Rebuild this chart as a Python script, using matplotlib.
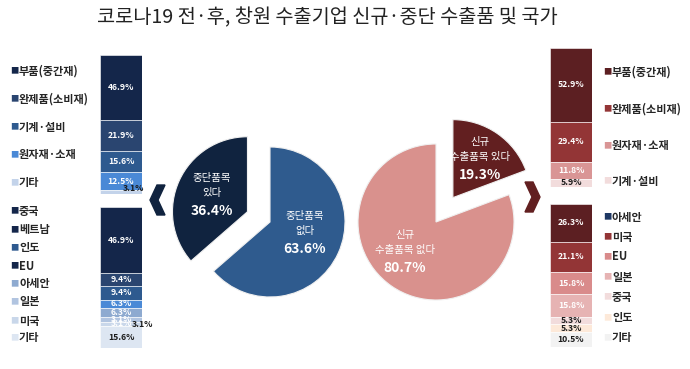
import matplotlib
matplotlib.use("Agg")
import matplotlib.pyplot as plt
from matplotlib.patches import Polygon

plt.rcParams['font.family'] = ['Noto Sans CJK KR', 'DejaVu Sans']

W, H = 690, 369

# ---- data ----
title = "코로나19 전·후, 창원 수출기업 신규·중단 수출품 및 국가"

stop_pie_labels = ["중단품목\n없다", "중단품목\n있다"]
stop_pie_values = [63.6, 36.4]
new_pie_labels = ["신규\n수출품목 있다", "신규\n수출품목 없다"]
new_pie_values = [19.3, 80.7]

stop_item_cats = ["부품(중간재)", "완제품(소비재)", "기계·설비", "원자재·소재", "기타"]
stop_item_vals = [46.9, 21.9, 15.6, 12.5, 3.1]
stop_nation_cats = ["중국", "베트남", "인도", "EU", "아세안", "일본", "미국", "기타"]
stop_nation_vals = [46.9, 9.4, 9.4, 6.3, 6.3, 3.1, 3.1, 15.6]

new_item_cats = ["부품(중간재)", "완제품(소비재)", "원자재·소재", "기계·설비"]
new_item_vals = [52.9, 29.4, 11.8, 5.9]
new_nation_cats = ["아세안", "미국", "EU", "일본", "중국", "인도", "기타"]
new_nation_vals = [26.3, 21.1, 15.8, 15.8, 5.3, 5.3, 10.5]

# ---- styles ----
navy = "#14264a"
blue_cols5 = [navy, "#2a4570", "#2e5a8f", "#4a89d6", "#c3d3ea"]
blue_txt5 = ["white", "white", "white", "white", "#1a1a1a"]
blue_cols8 = [navy, "#2a4570", "#2e5a8f", "#4a89d6", "#8eaad0", "#b1c4e0", "#c9d7ea", "#dde6f2"]
blue_txt8 = ["white"] * 7 + ["#1a1a1a"]
red_cols4 = ["#5c1f22", "#933536", "#d99595", "#f2dcdc"]
red_txt4 = ["white", "white", "white", "#1a1a1a"]
red_cols7 = ["#5c1f22", "#933536", "#d98b8b", "#e6b3b3", "#f2dcdc", "#fde9d9", "#f2f2f2"]
red_txt7 = ["white", "white", "white", "white", "#1a1a1a", "#1a1a1a", "#1a1a1a"]

fig = plt.figure(figsize=(W / 100, H / 100), dpi=100)
fig.patch.set_facecolor("white")


def px_axes(x0, y0, x1, y1):
    # pixel box (top-left origin) -> figure axes
    return fig.add_axes([x0 / W, 1 - y1 / H, (x1 - x0) / W, (y1 - y0) / H])


def ftext(x, y, s, **kw):
    fig.text(x / W, 1 - y / H, s, **kw)


def stack_bar(box, vals, cols, tcols, hide=()):
    ax = px_axes(*box)
    bottom = 0
    for i, (v, c) in enumerate(zip(vals, cols)):
        ax.bar(0, v, bottom=bottom, width=1, color=c, edgecolor="white", linewidth=0.4)
        if i not in hide:
            ax.text(0, bottom + v / 2, f"{v}%", ha="center", va="center",
                    fontsize=6.2, fontweight="bold", color=tcols[i])
        bottom += v
    ax.set_xlim(-0.5, 0.5)
    ax.set_ylim(bottom, 0)
    ax.axis("off")
    return ax


def legend(x, ys, cats, cols):
    for y, c, col in zip(ys, cats, cols):
        ftext(x, y, "■", fontsize=6, color=col, va="center", ha="left")
        ftext(x + 9, y, c, fontsize=8, fontweight="bold", color="#262626",
              va="center", ha="left")


# title
ftext(327, 18, title, fontsize=14.2, ha="center", va="center", color="#222222")

# ---- left bars ----
ax = stack_bar((100, 55, 142, 194), stop_item_vals, blue_cols5, blue_txt5, hide=(4,))
ax.text(0.3, sum(stop_item_vals) - 4.0, "3.1%", ha="center", va="center",
        fontsize=6.2, fontweight="bold", color="#1a1a1a", clip_on=False)
legend(10, [71, 99, 127, 155, 183], stop_item_cats, blue_cols5)

ax = stack_bar((100, 207, 142, 348), stop_nation_vals, blue_cols8, blue_txt8)
ax.text(0.5, sum(stop_nation_vals[:7]) - 1.0, "3.1%", ha="center", va="center",
        fontsize=6.2, fontweight="bold", color="#1a1a1a", clip_on=False)
legend(10, [211, 230, 248, 266, 284, 302, 321, 338], stop_nation_cats,
       [navy, navy, "#2e5a8f", navy, "#8eaad0", "#b1c4e0", "#c9d7ea", "#dde6f2"])

# ---- right bars ----
stack_bar((550, 48, 592, 187), new_item_vals, red_cols4, red_txt4)
legend(603, [72, 109, 146, 181], new_item_cats, red_cols4)

stack_bar((550, 204, 592, 347), new_nation_vals, red_cols7, red_txt7)
legend(603, [217, 237, 257, 277, 297, 318, 338], new_nation_cats,
       ["#1f3864"] + red_cols7[1:])

# ---- pies ----
def pie(cx, cy, r, vals, cols, explode):
    half = 120
    ax = px_axes(cx - half, cy - half, cx + half, cy + half)
    lim = half / r
    ax.pie(vals, colors=cols, startangle=90, counterclock=False, explode=explode,
           wedgeprops=dict(edgecolor="#f0f0f0", linewidth=0.8))
    ax.set_xlim(-lim, lim)
    ax.set_ylim(-lim, lim)
    ax.set_aspect("equal")
    ax.axis("off")


pie(270, 222, 75, stop_pie_values, ["#2f5b8e", "#10233f"], [0, 0.33])
pie(436, 222, 78, new_pie_values, ["#621f20", "#d9918d"], [0.38, 0])

def pie_label(x, y, s, pct):
    ftext(x, y, s, fontsize=7.5, color="white", ha="center", va="bottom",
          linespacing=1.6)
    ftext(x, y + 13, f"{pct}%", fontsize=10, fontweight="bold", color="white",
          ha="center", va="center")

pie_label(212, 198, stop_pie_labels[1], stop_pie_values[1])
pie_label(305, 236, stop_pie_labels[0], stop_pie_values[0])
pie_label(480, 162, new_pie_labels[0], new_pie_values[0])
pie_label(405, 255, new_pie_labels[1], new_pie_values[1])

# chevrons
fig.patches.append(Polygon(
    [(p[0] / W, 1 - p[1] / H) for p in
     [(165, 185), (157, 185), (150, 200), (157, 215), (165, 215), (158, 200)]],
    closed=True, color="#10233f", transform=fig.transFigure))
fig.patches.append(Polygon(
    [(p[0] / W, 1 - p[1] / H) for p in
     [(525, 182), (533, 182), (540, 197), (533, 212), (525, 212), (532, 197)]],
    closed=True, color="#621f20", transform=fig.transFigure))

fig.savefig("out.png", dpi=100)
